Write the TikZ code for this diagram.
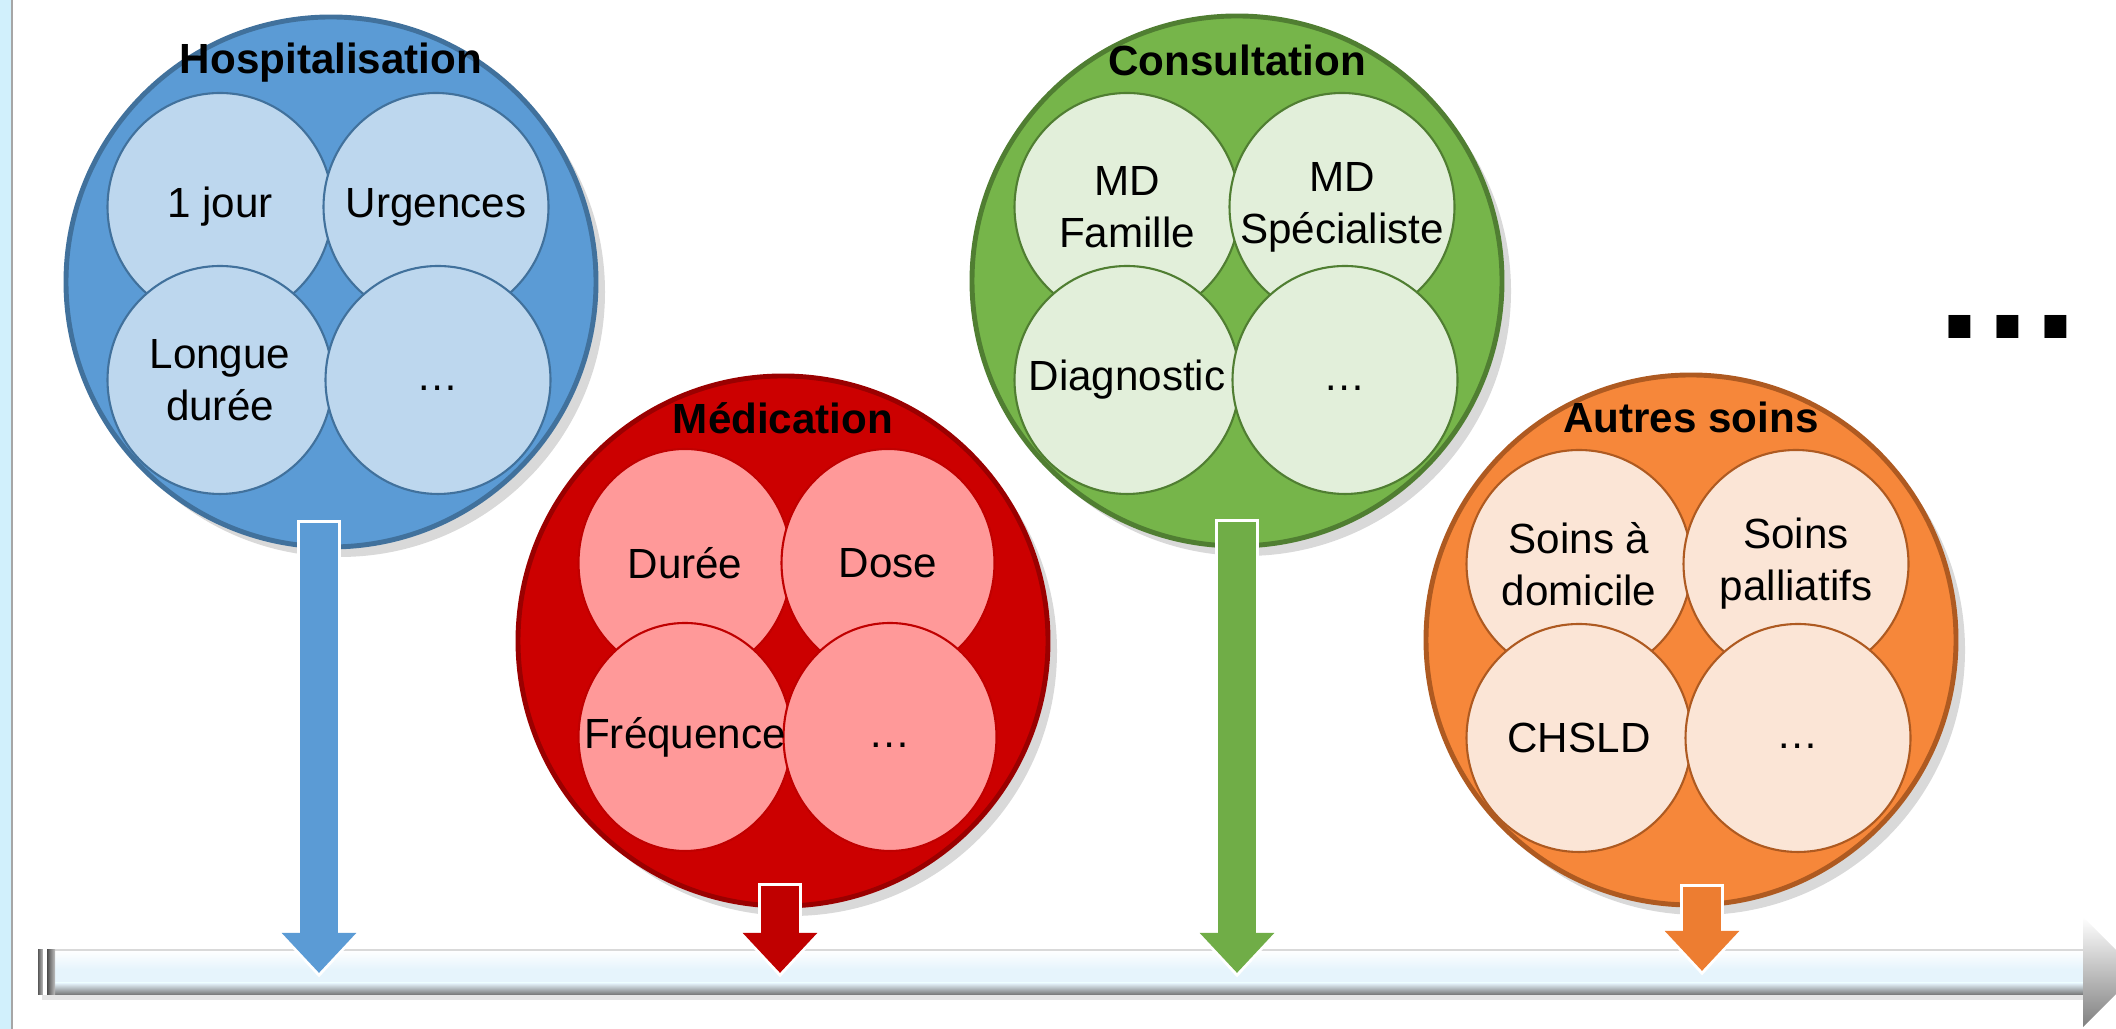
\documentclass[tikz,border=0pt]{standalone}
\usepackage{fontspec}
\setmainfont{Liberation Sans}
\usetikzlibrary{arrows.meta,shadows,shapes.geometric}
\definecolor{hospblue}{HTML}{5B9BD5}
\definecolor{hosplight}{HTML}{BDD7EE}
\definecolor{hospline}{HTML}{41719C}
\definecolor{medred}{HTML}{CC0000}
\definecolor{medlight}{HTML}{FF9999}
\definecolor{medline}{HTML}{C00000}
\definecolor{consgreen}{HTML}{76B54A}
\definecolor{conslight}{HTML}{E2EFDA}
\definecolor{consline}{HTML}{507E32}
\definecolor{consarrow}{HTML}{70AD47}
\definecolor{soinorange}{HTML}{F6873A}
\definecolor{soinlight}{HTML}{FBE5D6}
\definecolor{soinline}{HTML}{AE5A21}
\definecolor{soinarrow}{HTML}{ED7D31}
\definecolor{barlight}{HTML}{E6F4FC}
\begin{document}
\begin{tikzpicture}[x=1cm,y=1cm,font=\fontsize{12}{14.8}\selectfont,
  maincircle/.style={circle,minimum size=5.3cm,inner sep=0pt,line width=1.4pt,
    drop shadow={shadow xshift=0.9mm,shadow yshift=-1mm,opacity=0.3}},
  subcircle/.style={ellipse,minimum width=2.25cm,minimum height=2.28cm,inner sep=0pt,line width=0.6pt},
  grouptitle/.style={anchor=base,font=\fontsize{12}{14}\selectfont\bfseries},
  halo/.style={line width=4.4mm,white,-{Triangle[width=8.4mm,length=4.75mm]}},
  shaft/.style={line width=3.8mm,-{Triangle[width=7.2mm,length=4mm]}}]
  \useasboundingbox (0,0) rectangle (21.16,10.29);
  % left edge of the slide
  \fill[cyan!18!white] (0,0) rectangle (0.11,10.29);
  \draw[black!35,line width=0.8pt] (0.12,0) -- (0.12,10.29);
  % time line
  \fill[black!10] (0.42,0.29) rectangle (20.85,0.34);
  \shade[top color=white,bottom color=barlight] (0.55,0.60) rectangle (20.83,0.79);
  \fill[barlight] (0.55,0.46) rectangle (20.83,0.60);
  \shade[top color=barlight,bottom color=black!55] (0.55,0.34) rectangle (20.83,0.46);
  \draw[black!15] (0.55,0.79) -- (20.83,0.79);
  \shade[top color=white,bottom color=black!50] (20.83,0.02) -- (21.38,0.57) -- (20.83,1.12) -- cycle;
  \shade[left color=black!65,right color=black!25] (0.38,0.34) rectangle (0.43,0.79);
  \shade[left color=black!70,right color=black!25] (0.47,0.34) rectangle (0.55,0.79);
  % Hospitalisation
  \node[maincircle,fill=hospblue,draw=hospline] (hosp) at (3.31,7.47) {};
  \node[subcircle,fill=hosplight,draw=hospline] (hosp-a) at ([shift={(-1.11,0.75)}]hosp.center) {};
  \node[subcircle,fill=hosplight,draw=hospline] (hosp-b) at ([shift={(1.05,0.75)}]hosp.center) {};
  \node[subcircle,fill=hosplight,draw=hospline] (hosp-c) at ([shift={(-1.11,-0.98)}]hosp.center) {};
  \node[subcircle,fill=hosplight,draw=hospline] (hosp-d) at ([shift={(1.07,-0.98)}]hosp.center) {};
  % Medication
  \node[maincircle,fill=medred,draw=medline!80!black] (med) at (7.83,3.88) {};
  \node[subcircle,fill=medlight,draw=medline,minimum width=2.13cm] (med-a) at ([shift={(-0.98,0.78)}]med.center) {};
  \node[subcircle,fill=medlight,draw=medline,minimum width=2.13cm] (med-b) at ([shift={(1.05,0.78)}]med.center) {};
  \node[subcircle,fill=medlight,draw=medline,minimum width=2.13cm] (med-c) at ([shift={(-0.98,-0.96)}]med.center) {};
  \node[subcircle,fill=medlight,draw=medline,minimum width=2.13cm] (med-d) at ([shift={(1.07,-0.96)}]med.center) {};
  % Consultation
  \node[maincircle,fill=consgreen,draw=consline] (cons) at (12.37,7.48) {};
  \node[subcircle,fill=conslight,draw=consline] (cons-a) at ([shift={(-1.10,0.74)}]cons.center) {};
  \node[subcircle,fill=conslight,draw=consline] (cons-b) at ([shift={(1.05,0.74)}]cons.center) {};
  \node[subcircle,fill=conslight,draw=consline] (cons-c) at ([shift={(-1.10,-0.99)}]cons.center) {};
  \node[subcircle,fill=conslight,draw=consline] (cons-d) at ([shift={(1.08,-0.99)}]cons.center) {};
  % Autres soins
  \node[maincircle,fill=soinorange,draw=soinline] (soin) at (16.91,3.89) {};
  \node[subcircle,fill=soinlight,draw=soinline] (soin-a) at ([shift={(-1.12,0.76)}]soin.center) {};
  \node[subcircle,fill=soinlight,draw=soinline] (soin-b) at ([shift={(1.05,0.76)}]soin.center) {};
  \node[subcircle,fill=soinlight,draw=soinline] (soin-c) at ([shift={(-1.12,-0.98)}]soin.center) {};
  \node[subcircle,fill=soinlight,draw=soinline] (soin-d) at ([shift={(1.07,-0.98)}]soin.center) {};
  % arrows down to the time line
  \coordinate (hosp-s) at (3.19,5.06);
  \coordinate (hosp-e) at (3.19,0.56);
  \coordinate (med-s) at (7.80,1.43);
  \coordinate (med-e) at (7.80,0.56);
  \coordinate (cons-s) at (12.37,5.07);
  \coordinate (cons-e) at (12.37,0.56);
  \coordinate (soin-s) at (17.02,1.42);
  \coordinate (soin-e) at (17.02,0.58);
  \draw[halo] ([yshift=0.3mm]hosp-s) -- ([yshift=-0.45mm]hosp-e);
  \draw[shaft,hospblue] (hosp-s) -- (hosp-e);
  \draw[halo] ([yshift=0.3mm]med-s) -- ([yshift=-0.45mm]med-e);
  \draw[shaft,medline] (med-s) -- (med-e);
  \draw[halo] ([yshift=0.3mm]cons-s) -- ([yshift=-0.45mm]cons-e);
  \draw[shaft,consarrow] (cons-s) -- (cons-e);
  \draw[halo] ([yshift=0.3mm]soin-s) -- ([yshift=-0.45mm]soin-e);
  \draw[shaft,soinarrow] (soin-s) -- (soin-e);
  % titles and texts
  \node[grouptitle] (hosp-t) at ([yshift=2.08cm]hosp.center) {Hospitalisation};
  \node (hosp-1) at (hosp-a) {1 jour};
  \node (hosp-2) at (hosp-b) {Urgences};
  \node[align=center] (hosp-3) at (hosp-c) {Longue\\durée};
  \node (hosp-4) at (hosp-d) {\strut…};
  \node[grouptitle] (med-t) at ([yshift=2.07cm]med.center) {Médication};
  \node (med-1) at (med-a) {Durée};
  \node (med-2) at (med-b) {Dose};
  \node (med-3) at (med-c) {Fréquence};
  \node (med-4) at (med-d) {\strut…};
  \node[grouptitle] (cons-t) at ([yshift=2.05cm]cons.center) {Consultation};
  \node[align=center] (cons-1) at (cons-a) {MD\\Famille};
  \node[align=center] (cons-2) at (cons-b) {MD\\Spécialiste};
  \node (cons-3) at (cons-c) {Diagnostic};
  \node (cons-4) at (cons-d) {\strut…};
  \node[grouptitle] (soin-t) at ([yshift=2.07cm]soin.center) {Autres soins};
  \node[align=center] (soin-1) at (soin-a) {Soins à\\domicile};
  \node[align=center] (soin-2) at (soin-b) {Soins\\palliatifs};
  \node (soin-3) at (soin-c) {CHSLD};
  \node (soin-4) at (soin-d) {\strut…};
  \node[inner sep=0pt,font=\fontsize{44}{44}\selectfont\bfseries] (more) at (20.08,7.02) {.\kern0.54mm.\kern0.54mm.};
\end{tikzpicture}
\end{document}
